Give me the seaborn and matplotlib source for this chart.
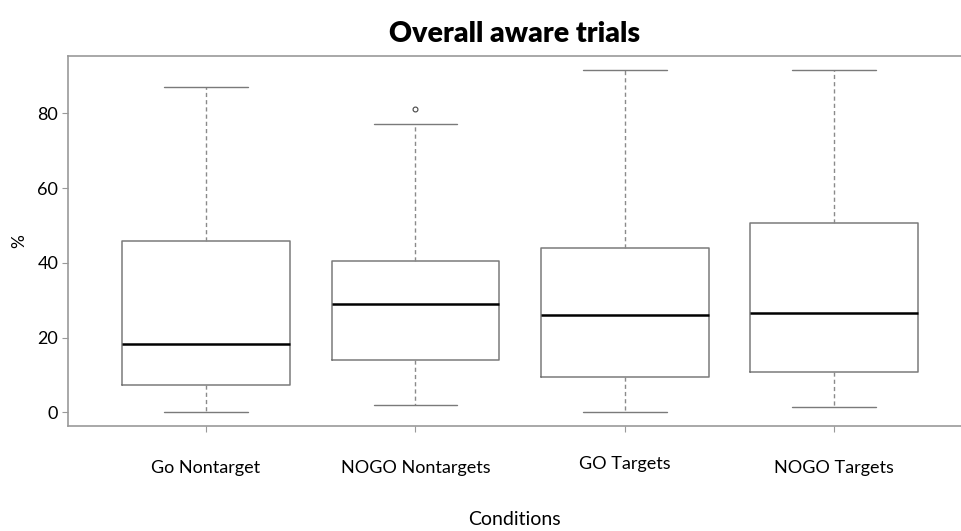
import numpy as np
import pandas as pd
import seaborn as sns
import matplotlib.pyplot as plt
from matplotlib.transforms import ScaledTranslation

sns.set_theme(style="white")
plt.rcParams['font.family'] = ['Lato', 'DejaVu Sans']
plt.rcParams['text.color'] = 'black'
plt.rcParams['axes.labelcolor'] = 'black'

# conditions on the x axis
conditions = ['Go Nontarget', 'NOGO Nontargets', 'GO Targets', 'NOGO Targets']

# per-participant % aware trials (min, q1, median, q3, max ...)
go_nontarget = [0.0, 7.4, 18.3, 45.9, 87.2]
nogo_nontargets = [1.9, 8.0, 14.0, 21.0, 29.0, 35.0, 40.6, 77.3, 81.2]
go_targets = [0.0, 9.4, 26.0, 43.9, 91.6]
nogo_targets = [1.3, 10.7, 26.7, 50.6, 91.6]

rows = []
for cond, vals in zip(conditions, [go_nontarget, nogo_nontargets, go_targets, nogo_targets]):
    for v in vals:
        rows.append([cond, v])
df = pd.DataFrame(rows, columns=['condition', 'pct'])

fig = plt.figure(figsize=(9.61, 5.31), dpi=100)
ax = fig.add_axes([0.0708, 0.1983, 0.9292, 0.6968])

grey = '#7a7a7a'
sns.boxplot(data=df, x='condition', y='pct', order=conditions, ax=ax,
            fill=False, color=grey, width=0.8, whis=1.5, linewidth=1.1,
            capwidths=0.4,
            medianprops={'color': 'black', 'linewidth': 1.8},
            whiskerprops={'color': '#8a8a8a', 'linestyle': (0, (3, 2.2)), 'linewidth': 1.0},
            capprops={'color': grey, 'linewidth': 1.0},
            flierprops={'marker': 'o', 'markersize': 3.5, 'markerfacecolor': 'none',
                        'markeredgecolor': '#444444', 'markeredgewidth': 0.8})

ax.set_xlim(-0.659, 3.606)
ax.set_ylim(-3.59, 95.47)
ax.set_yticks([0, 20, 40, 60, 80])

for side in ['left', 'bottom', 'top']:
    ax.spines[side].set_visible(True)
    ax.spines[side].set_color('#999999')
    ax.spines[side].set_linewidth(1.2)
ax.spines['right'].set_visible(False)

ax.tick_params(axis='both', which='major', length=4, width=0.8, color='#999999',
               labelsize=13, labelcolor='black', bottom=True, left=True)
ax.tick_params(axis='x', pad=21)
ax.tick_params(axis='y', pad=3)

# GO Targets label sits a little higher in the original
lbl = ax.get_xticklabels()[2]
lbl.set_transform(lbl.get_transform() + ScaledTranslation(0, 4 / 100, fig.dpi_scale_trans))

ax.set_xlabel('Conditions', fontsize=14, labelpad=25)
ax.set_ylabel('%', fontsize=12.5, labelpad=7)
ax.set_title('Overall aware trials', fontsize=20.5, fontweight='heavy', pad=10, color='black')

fig.savefig('out.png', dpi=100)
